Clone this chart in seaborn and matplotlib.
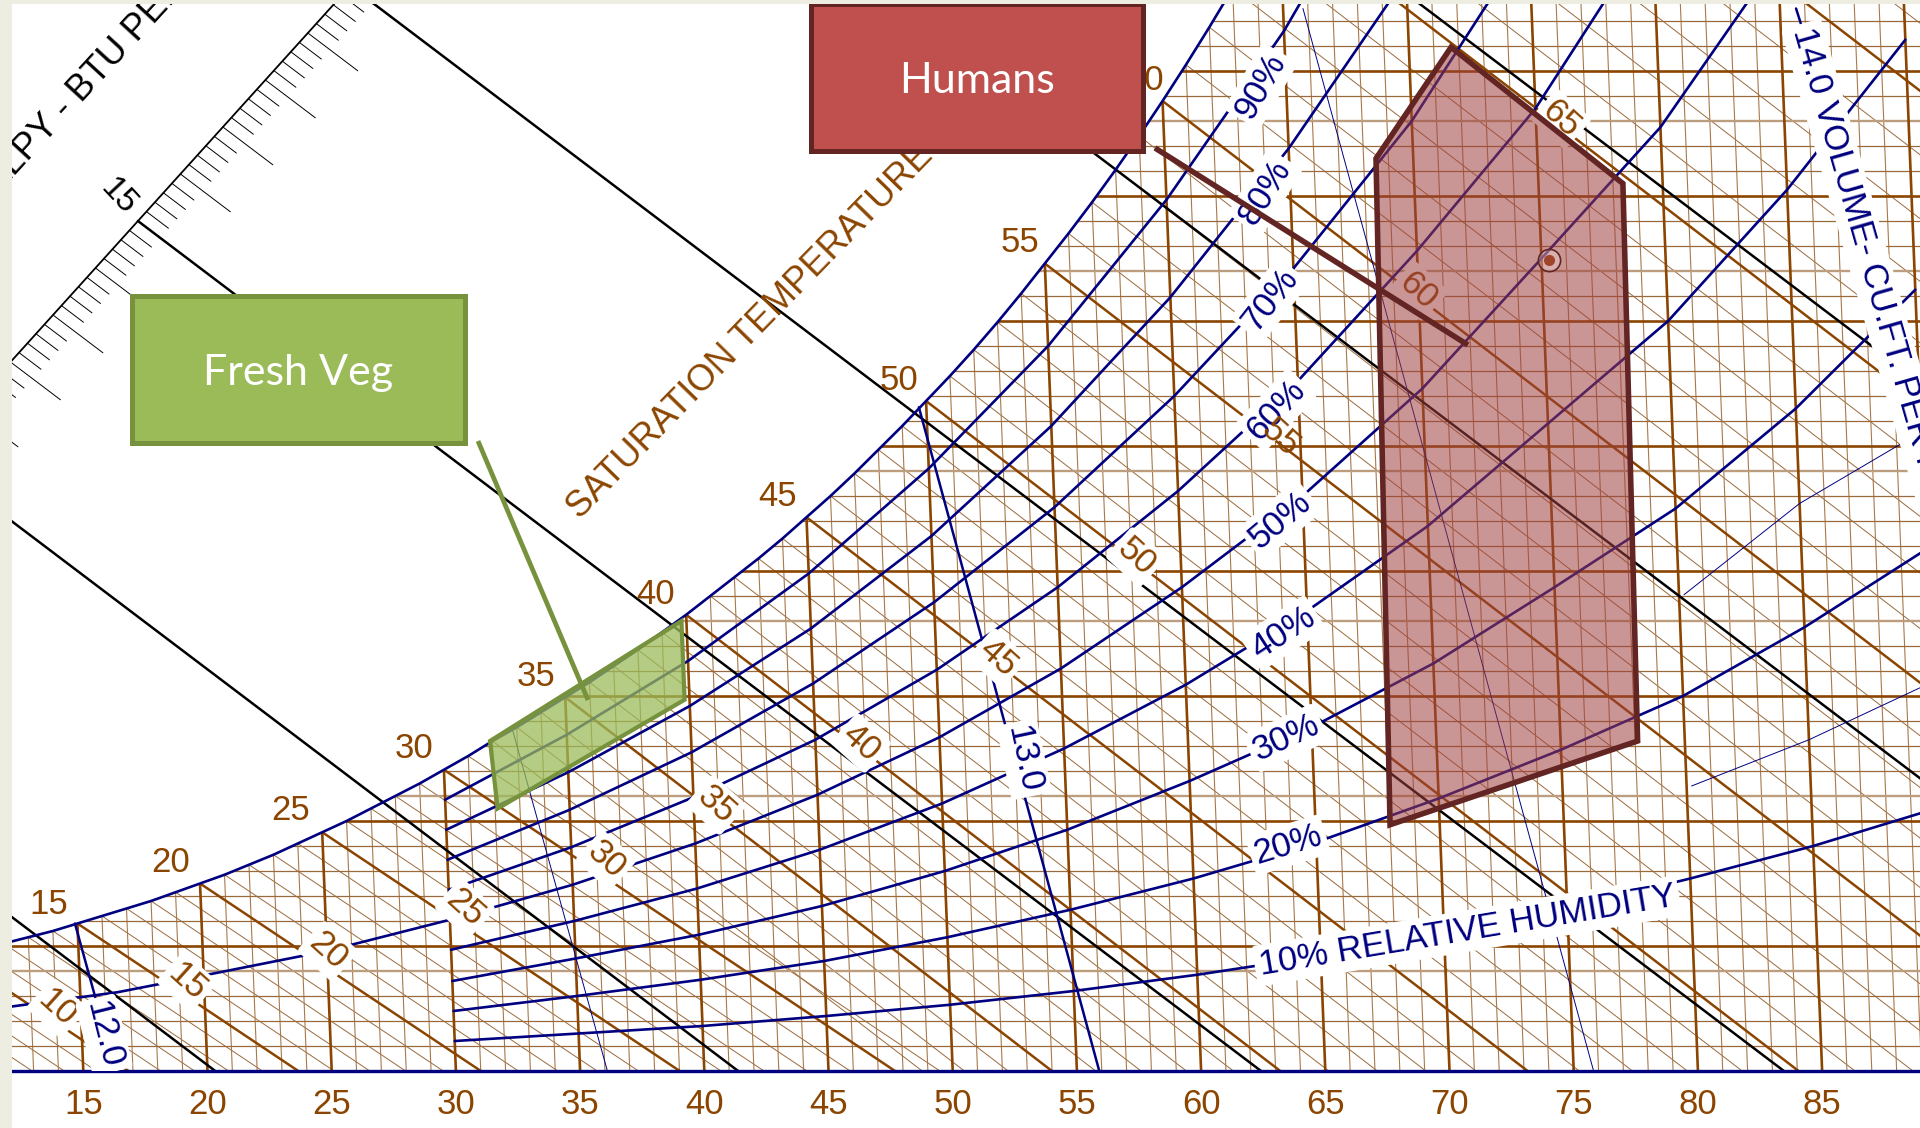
import numpy as np
import pandas as pd
import matplotlib
matplotlib.use("Agg")
import matplotlib.pyplot as plt
import matplotlib.transforms as mtransforms
from matplotlib.colors import to_rgba
from matplotlib.patches import Polygon, Rectangle
import seaborn as sns

# Psychrometric chart
# x = dry bulb F, y = grains of moisture per lb of dry air

# saturation curve, one value per degree
sat_temp = list(range(6, 73))
sat_grains = [7.7, 8.1, 8.5, 8.9, 9.3, 9.7, 10.2, 10.7, 11.2, 11.8, 12.4, 13.0, 13.6, 14.3,
              15.0, 15.7, 16.5, 17.3, 18.2, 19.1, 20.0, 21.0, 22.0, 23.0, 24.1, 25.2, 26.4,
              27.5, 28.7, 29.9, 31.1, 32.4, 33.7, 35.1, 36.5, 38.0, 39.5, 41.0, 42.6, 44.3,
              46.0, 47.8, 49.7, 51.6, 53.6, 55.6, 57.7, 59.9, 62.2, 64.6, 67.0, 69.5, 72.1,
              74.8, 77.6, 80.5, 83.5, 86.6, 89.7, 92.8, 96.2, 99.7, 103.3, 107.0, 110.7,
              114.7, 118.8]

# relative humidity curves
rh_temp = [30, 35, 40, 45, 50, 55, 60, 65, 70, 75, 80, 85, 90]
rh_10 = [2.4, 3.0, 3.6, 4.4, 5.3, 6.4, 7.7, 9.2, 11.0, 13.0, 15.4, 18.0, 21.0]
rh_20 = [4.8, 6.0, 7.3, 8.8, 10.7, 12.9, 15.4, 18.3, 21.8, 25.7, 30.0, 35.5, 41.7]
rh_30 = [7.2, 9.0, 10.9, 13.2, 16.0, 19.3, 23.2, 27.5, 32.6, 38.7, 45.0, 53.0, 62.5]
rh_40 = [9.7, 12.0, 14.6, 17.7, 21.4, 25.8, 30.9, 36.8, 43.6, 51.8, 60.0, 70.5, 82.5]
rh_50 = [12.1, 14.9, 18.2, 22.1, 26.7, 32.2, 38.7, 46.0, 54.6, 65.0, 75.5, 89.0]
rh_60 = [14.5, 17.9, 21.9, 26.5, 32.1, 38.7, 46.4, 55.2, 65.6, 77.0, 91.5]
rh_70 = [16.9, 20.9, 25.5, 31.0, 37.5, 45.1, 54.0, 64.2, 76.0, 90.5]
rh_80 = [19.3, 23.9, 29.2, 35.4, 42.8, 51.6, 61.9, 73.8, 87.5]
rh_90 = [21.7, 26.9, 32.8, 39.8, 48.2, 58.0, 69.7, 83.2, 99.2]
# 50% carries on left of the 30F line
rh_50_left_temp = [12, 16.5, 20.4, 25, 30]
rh_50_left = [5.1, 6.3, 7.8, 9.6, 12.1]
# the two thin curves top right
thin_25_temp = [80.2, 85, 89.2]
thin_25 = [38.1, 45.4, 50.2]
thin_15_temp = [80.2, 85, 89.6]
thin_15 = [22.8, 26.5, 30.7]

# specific volume lines, dry bulb at top and at the axis
vol_names = ["12.0", "12.5", "13.0", "13.5", "14.0"]
vol_top_temp = [14.9, 32.8, 49.7, 65.8, 85.65]
vol_top_grains = [11.8, 27.5, 53.1, 85.0, 85.0]
vol_bottom_temp = [16.3, 36.1, 55.9, 75.8, 86.0]
vol_bottom_grains = [0, 0, 0, 0, 82.5]

enthalpy_lines = [5, 10, 15, 20, 25, 30]
tick_labels = [15, 20, 25, 30, 35, 40, 45, 50, 55, 60, 65, 70, 75, 80, 85]

# comfort regions
humans_temp = [71.7, 68.5, 68.0, 78.1, 78.4]
humans_grains = [81.9, 73.0, 19.7, 26.4, 71.0]
veg_temp = [31.9, 32.1, 39.8, 39.8]
veg_grains = [26.4, 21.0, 29.7, 36.0]
design_temp = [75.3]
design_grains = [64.9]

# tan grain lines, the rest are dark
tan_levels = [8, 22, 36, 48, 64, 76]

BROWN = "#8B4500"
NAVY = "#000080"
SKEW = 0.02          # dry bulb lines lean left going up
WB_ICE = 1.327       # wet bulb slope, grains per F, below freezing
WB_WATER = 1.526     # same above freezing
ENTH_SLOPE = 1.504
LEFT, RIGHT, TOP = 12.13, 88.94, 85.36


def chart_x(temp, grains):
    return np.asarray(temp, dtype=float) - SKEW * np.asarray(grains, dtype=float)


sns.set_theme(style="white")
plt.rcParams["font.family"] = ["Liberation Sans", "DejaVu Sans"]

fig = plt.figure(figsize=(19.2, 11.28), dpi=100, facecolor="white")
ax = fig.add_axes([12 / 1920, 57 / 1128, 1908 / 1920, 1067 / 1128])
ax.set_xlim(LEFT, RIGHT)
ax.set_ylim(0, TOP)

# transform for the things placed by eye, in pixels of the picture
px = mtransforms.Affine2D().scale(1 / 1920, -1 / 1128).translate(0, 1) + fig.transFigure

fig.add_artist(Rectangle((0, 0), 12, 1128, transform=px, fc="#EEEDE1", ec="none"))
fig.add_artist(Rectangle((0, 0), 1920, 4, transform=px, fc="#EEEDE1", ec="none"))

# everything in the grid stays under the saturation curve
sat_x = chart_x(sat_temp, sat_grains)
clip_xy = list(zip(sat_x, sat_grains)) + [(110, 118.8), (110, 0), (sat_x[0], 0)]
clip_poly = Polygon(clip_xy, closed=True, transform=ax.transData)


def grid_line(xs, ys, **kw):
    line, = ax.plot(xs, ys, solid_capstyle="butt", **kw)
    line.set_clip_path(clip_poly)


# wet bulb lines
for t, g in zip(sat_temp, sat_grains):
    slope = WB_ICE if t < 32 else WB_WATER
    x0 = t - SKEW * g
    if t % 5 == 0:
        grid_line([x0, x0 + g / slope], [g, 0], color=BROWN, lw=1.8, zorder=2.5)
    else:
        grid_line([x0, x0 + g / slope], [g, 0], color="#9A6A3C", lw=0.7, zorder=2)

# dry bulb lines
for t in range(12, 92):
    xs = chart_x([t, t], [0, 100])
    if t % 5 == 0:
        grid_line(xs, [0, 100], color=BROWN, lw=1.9, zorder=2.5)
    else:
        grid_line(xs, [0, 100], color="#A9794A", lw=0.8, zorder=2)

# grain lines
for g in range(2, 86, 2):
    if g % 10 == 0:
        grid_line([0, 110], [g, g], color=BROWN, lw=1.9, zorder=2.5)
    elif g in tan_levels:
        grid_line([0, 110], [g, g], color="#BC9D7E", lw=1.7, zorder=2)
    else:
        grid_line([0, 110], [g, g], color="#9A6A3C", lw=0.9, zorder=2)

# enthalpy ruler and lines
h_ticks = np.arange(10, 20.2, 0.2)
ruler_x = 17.2 + 1.71 * (h_ticks - 15)
ruler_g = 68 + 3.76 * (h_ticks - 15)
ax.plot(ruler_x, ruler_g, color="black", lw=1.3, zorder=3)
for i, (x, g) in enumerate(zip(ruler_x, ruler_g)):
    dx = 2.01 if i % 5 == 0 else 0.886
    ax.plot([x, x + dx], [g, g - dx * ENTH_SLOPE], color="black", lw=0.7, zorder=3)
for h in enthalpy_lines:
    x0 = 17.2 + 1.71 * (h - 15)
    g0 = 68 + 3.76 * (h - 15)
    ax.plot([x0, x0 + g0 / ENTH_SLOPE], [g0, 0], color="black", lw=1.8, zorder=3)

# relative humidity curves, long table for seaborn
rows = []
for name, vals in [("10", rh_10), ("20", rh_20), ("30", rh_30), ("40", rh_40), ("50", rh_50),
                   ("60", rh_60), ("70", rh_70), ("80", rh_80), ("90", rh_90)]:
    temps = rh_temp[:len(vals)]
    rows.append(pd.DataFrame({"x": chart_x(temps, vals), "grains": vals, "rh": name}))
rows.append(pd.DataFrame({"x": chart_x(rh_50_left_temp, rh_50_left), "grains": rh_50_left, "rh": "50L"}))
rows.append(pd.DataFrame({"x": sat_x, "grains": sat_grains, "rh": "sat"}))
rh_df = pd.concat(rows, ignore_index=True)
sns.lineplot(data=rh_df, x="x", y="grains", hue="rh", units="rh", estimator=None, sort=False,
             palette={k: NAVY for k in rh_df["rh"].unique()}, lw=1.9, legend=False, ax=ax, zorder=4)

thin_df = pd.concat([
    pd.DataFrame({"x": chart_x(thin_25_temp, thin_25), "grains": thin_25, "rh": "25"}),
    pd.DataFrame({"x": chart_x(thin_15_temp, thin_15), "grains": thin_15, "rh": "15"}),
])
sns.lineplot(data=thin_df, x="x", y="grains", units="rh", estimator=None, sort=False,
             color=NAVY, lw=0.7, legend=False, ax=ax, zorder=4)

# specific volume lines, the .5 ones are thin
for i, name in enumerate(vol_names):
    xs = chart_x([vol_top_temp[i], vol_bottom_temp[i]], [vol_top_grains[i], vol_bottom_grains[i]])
    ax.plot(xs, [vol_top_grains[i], vol_bottom_grains[i]], color=NAVY,
            lw=0.7 if name.endswith(".5") else 1.8, zorder=4)

ax.set_xlim(LEFT, RIGHT)
ax.set_ylim(0, TOP)
ax.set_xlabel("")
ax.set_ylabel("")
ax.set_yticks([])
ax.set_xticks(tick_labels)
ax.set_xticklabels([str(t) for t in tick_labels], color=BROWN, fontsize=25)
ax.tick_params(axis="x", length=0, pad=12)
for side in ["top", "left", "right"]:
    ax.spines[side].set_visible(False)
ax.spines["bottom"].set_color(NAVY)
ax.spines["bottom"].set_linewidth(2.4)
ax.spines["bottom"].set_zorder(5)
ax.patch.set_facecolor("white")

label_box = dict(boxstyle="round,pad=0.12", fc="white", ec="none")


def put(x, y, s, color=BROWN, size=25, rot=0, box=False, **kw):
    ax.text(x, y, s, transform=px, color=color, fontsize=size, rotation=rot, ha=kw.pop("ha", "center"),
            va=kw.pop("va", "center"), rotation_mode="anchor", clip_on=True, zorder=kw.pop("zorder", 6),
            bbox=label_box if box else None, **kw)


# saturation temperatures
for x, y, s in [(49, 904, "15"), (171, 862, "20"), (291, 811, "25"), (414, 748, "30"), (536, 676, "35"),
                (656, 594, "40"), (778, 496, "45"), (899, 381, "50"), (1020, 242, "55"), (1145, 80, "60")]:
    put(x, y, s)
put(580, 520, "SATURATION TEMPERATURE", size=26, rot=45.7, ha="left", va="baseline")

# relative humidity labels
for x, y, s, rot in [(1261, 86, "90%", 60), (1265, 192, "80%", 58), (1270, 300, "70%", 52),
                     (1276, 410, "60%", 47), (1280, 520, "50%", 40), (1283, 633, "40%", 33),
                     (1286, 738, "30%", 25), (1288, 845, "20%", 17)]:
    put(x, y, s, color=NAVY, size=25, rot=rot, box=True)
put(1467, 931, "10% RELATIVE HUMIDITY", color=NAVY, size=25, rot=9.5, box=True)

# wet bulb labels along the lines, 55 sits on top of the 60% label in the original
for x, y, s in [(57, 1008, "10"), (187, 982, "15"), (328, 951, "20"), (465, 908, "25"), (606, 860, "30"),
                (716, 805, "35"), (861, 743, "40"), (998, 658, "45"), (1136, 557, "50"),
                (1418, 291, "60"), (1561, 119, "65")]:
    put(x, y, s, rot=-42, box=True)
put(1280, 438, "55", rot=-42, zorder=6.5)

# volume labels
put(104, 1035, "12.0", color=NAVY, size=25, rot=-76, box=True)
put(1024, 759, "13.0", color=NAVY, size=25, rot=-78, box=True)
put(1802, 28, "14.0 VOLUME- CU.FT. PER POUND OF DRY AIR", color=NAVY, size=25, rot=-74, box=True,
    ha="left", va="center")

# enthalpy labels
put(-69, 267, "ENTHALPY - BTU PER POUND OF DRY AIR", color="black", size=26, rot=47.4, ha="left", va="baseline")
put(118, 197, "15", color="black", size=24, rot=-47)

# regions
ax.fill(chart_x(humans_temp, humans_grains), humans_grains, fc=to_rgba("#A0403F", 0.55),
        ec="#632523", lw=4, zorder=7, joinstyle="miter")
ax.fill(chart_x(veg_temp, veg_grains), veg_grains, fc=to_rgba("#9BBB59", 0.75),
        ec="#76923C", lw=3, zorder=7, joinstyle="miter")

dot_x = chart_x(design_temp, design_grains)[0]
dot_y = design_grains[0]
ax.plot([dot_x], [dot_y], marker="o", ms=16, mfc=(1, 1, 1, 0.25), mec="#632523", mew=1.2, zorder=8)
ax.plot([dot_x], [dot_y], marker="o", ms=8, mfc="#A0452A", mec="none", zorder=8)

# leaders and call out boxes
ax.plot([1155, 1468], [148, 345], transform=px, color="#632523", lw=4, zorder=9, solid_capstyle="butt")
ax.plot([478, 588], [441, 700], transform=px, color="#76923C", lw=3.4, zorder=9, solid_capstyle="butt")
ax.add_patch(Rectangle((132, 296), 333, 147, transform=px, fc="#9BBB59", ec="#76923C", lw=3.6, zorder=10))
ax.add_patch(Rectangle((811, 4), 332, 147, transform=px, fc="#C0504D", ec="#632523", lw=3.6, zorder=10))
ax.text(298, 373, "Fresh Veg", transform=px, color="white", fontsize=31, family="Lato",
        ha="center", va="center", zorder=11)
ax.text(977, 81, "Humans", transform=px, color="white", fontsize=31, family="Lato",
        ha="center", va="center", zorder=11)

fig.savefig("out.png", dpi=100)
